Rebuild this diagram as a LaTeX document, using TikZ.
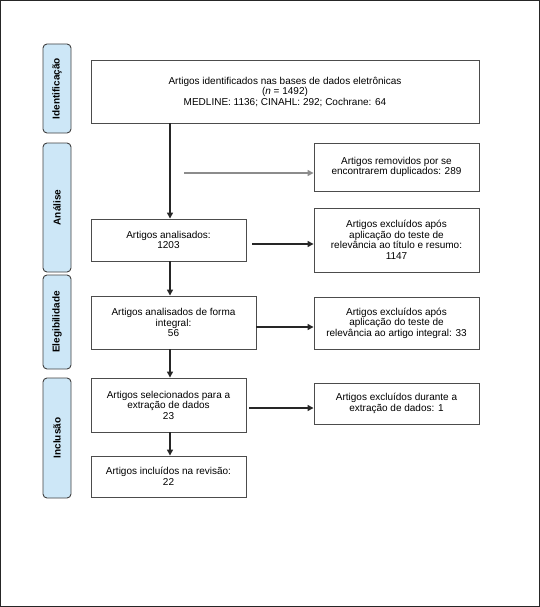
\documentclass[tikz,border=0pt]{standalone}
\usepackage{fontspec}
\setmainfont{Liberation Sans}
\usetikzlibrary{arrows.meta,calc}
\definecolor{lblue}{HTML}{CDE7F7}
\tikzset{
  x=1pt,y=-1pt,
  box/.style={draw=black!70,line width=0.9pt,fill=white,align=center,inner sep=2pt,
    font=\fontsize{10}{10.5}\selectfont},
  side/.style={draw=black!75,line width=0.9pt,fill=lblue,rounded corners=4pt,
    minimum width=28pt,font=\fontsize{10}{11}\bfseries\selectfont},
  arr/.style={-{Triangle[length=6pt,width=6pt]},line width=1.3pt,draw=black!85},
  garr/.style={-{Triangle[length=6pt,width=6pt]},line width=1.3pt,draw=black!45},
}
\begin{document}
\begin{tikzpicture}
\draw[black!85,line width=1.2pt] (0.6,0.6) rectangle (539.4,606.4);
\useasboundingbox (0,0) rectangle (540,607);
% side labels
\node[side,minimum height=89pt] (s1) at (57,88.5) {\rotatebox{90}{Identificação}};
\node[side,minimum height=129pt] (s2) at (57,207.5) {\rotatebox{90}{Análise}};
\node[side,minimum height=94pt] (s3) at (57,322) {\rotatebox{90}{Elegibilidade}};
\node[side,minimum height=120pt] (s4) at (57,438) {\rotatebox{90}{Inclusão}};
% boxes
\node[box,minimum width=388pt,minimum height=63pt] (top) at (285,91.5)
  {Artigos identificados nas bases de dados eletrônicas\\(\textit{n} = 1492)\\MEDLINE: 1136; CINAHL: 292; Cochrane: 64};
\node[box,minimum width=165pt,minimum height=48pt] (dup) at (396.5,167)
  {Artigos removidos por se\\encontrarem duplicados: 289};
\node[box,minimum width=155pt,minimum height=42pt] (anal) at (168.5,240)
  {Artigos analisados:\\1203};
\node[box,minimum width=165pt,minimum height=64pt] (exc1) at (396.5,240)
  {Artigos excluídos após\\aplicação do teste de\\relevância ao título e resumo:\\1147};
\node[box,minimum width=165pt,minimum height=53pt] (integ) at (173.5,322.5)
  {Artigos analisados de forma\\integral:\\56};
\node[box,minimum width=165pt,minimum height=52pt] (exc2) at (396.5,323)
  {Artigos excluídos após\\aplicação do teste de\\relevância ao artigo integral: 33};
\node[box,minimum width=155pt,minimum height=54pt] (sel) at (168.5,405)
  {Artigos selecionados para a\\extração de dados\\23};
\node[box,minimum width=165pt,minimum height=41pt] (exc3) at (396.5,403.5)
  {Artigos excluídos durante a\\extração de dados: 1};
\node[box,minimum width=155pt,minimum height=41pt] (incl) at (168.5,476.5)
  {Artigos incluídos na revisão:\\22};
% connectors
\coordinate (vx) at (170,0);
\coordinate (d0) at (184,173);
\draw[arr] (top.south -| vx) -- (anal.north -| vx);
\draw[garr] (d0) -- (d0 -| dup.west);
\draw[arr] ([xshift=6pt,yshift=-4pt]anal.east) -- ([yshift=-4pt]exc1.west);
\draw[arr] (anal.south -| vx) -- (integ.north -| vx);
\draw[arr] ([yshift=-4.5pt]integ.east) -- ([yshift=-4pt]exc2.west);
\draw[arr] (integ.south -| vx) -- (sel.north -| vx);
\draw[arr] ([xshift=3pt,yshift=-3pt]sel.east) -- ([yshift=-4.5pt]exc3.west);
\draw[arr] (sel.south -| vx) -- (incl.north -| vx);
\end{tikzpicture}
\end{document}
